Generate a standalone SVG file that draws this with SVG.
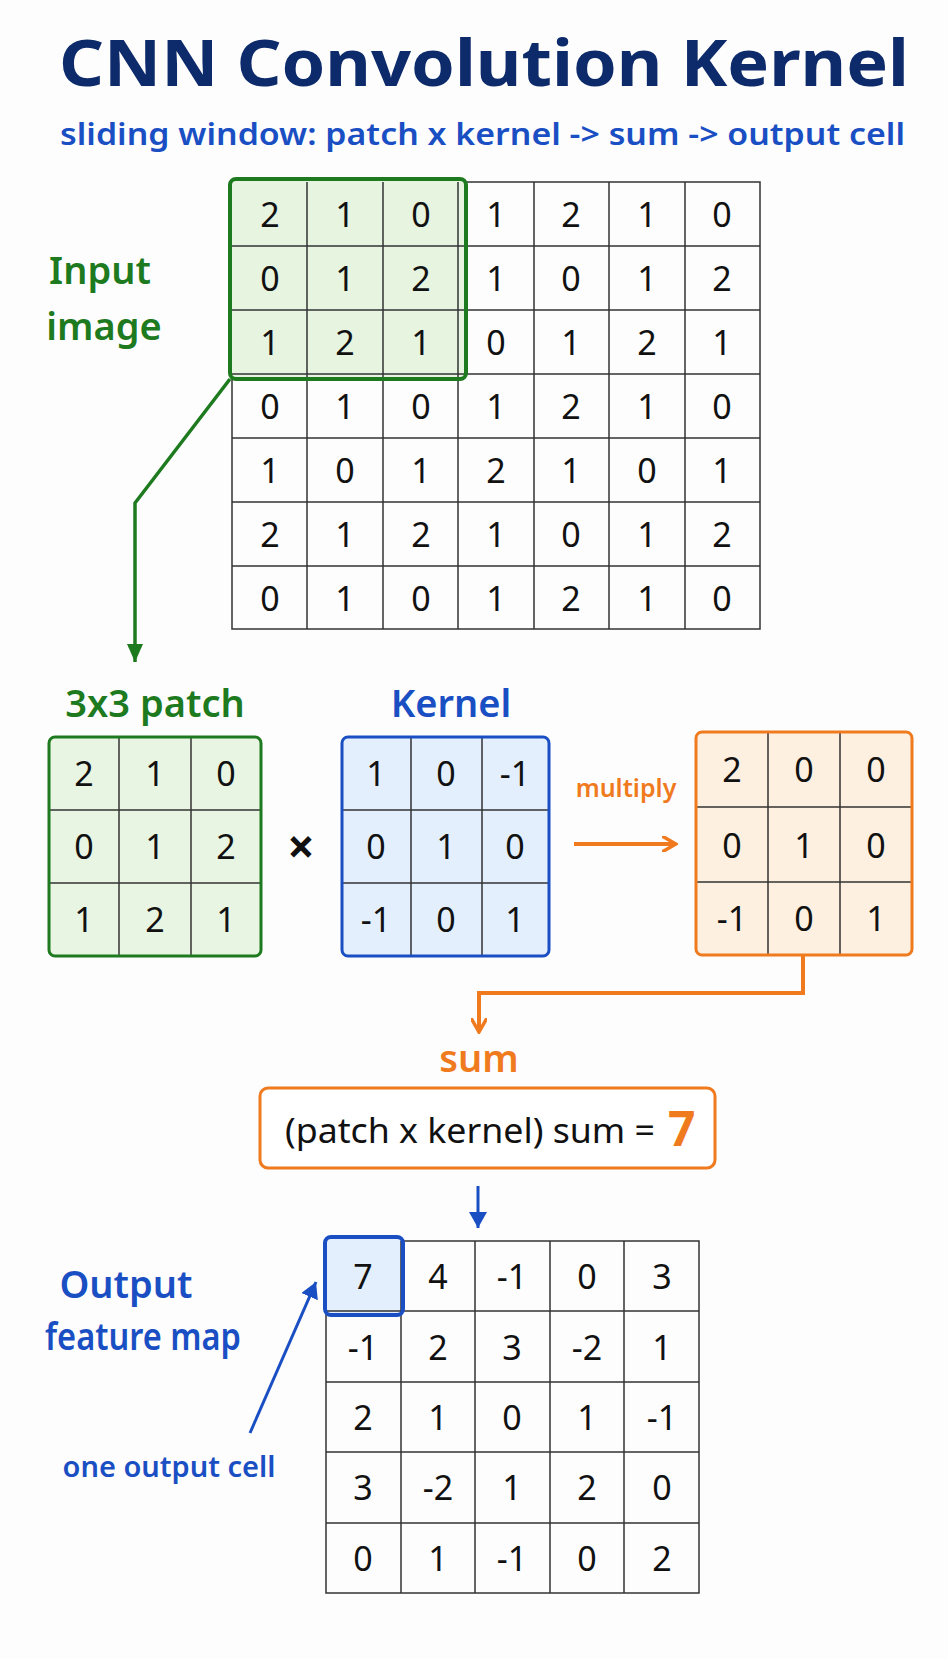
<svg xmlns="http://www.w3.org/2000/svg" width="948" height="1659" viewBox="0 0 948 1659">
<style>
text{font-family:"Noto Sans","Open Sans",sans-serif}
.n{font-size:34px;text-anchor:middle;fill:#111}
.g{stroke:#333;stroke-width:1.5;fill:none}
.lbl{font-size:38px;font-weight:600;text-anchor:middle}
</style>
<defs>
<marker id="ag" markerWidth="20" markerHeight="20" refX="18" refY="10" orient="auto" markerUnits="userSpaceOnUse"><path d="M0,2 L18,10 L0,18 z" fill="#1e7a1e"/></marker>
<marker id="ao" markerWidth="16" markerHeight="16" refX="14" refY="8" orient="auto" markerUnits="userSpaceOnUse"><path d="M0,0 L14,8 L0,16" fill="none" stroke="#f07a1e" stroke-width="3.5"/></marker>
<marker id="ab" markerWidth="18" markerHeight="18" refX="16" refY="9" orient="auto" markerUnits="userSpaceOnUse"><path d="M0,0 L16,9 L0,18 z" fill="#1a4fc4"/></marker>
</defs>
<rect width="948" height="1659" fill="#fdfdfd"/>
<g id="title">
<text x="59" y="86" font-size="64" font-weight="700" fill="#0d2a6b" textLength="850" lengthAdjust="spacingAndGlyphs">CNN Convolution Kernel</text>
<text x="60" y="145" font-size="30" font-weight="600" fill="#1a4fc4" textLength="845" lengthAdjust="spacingAndGlyphs">sliding window: patch x kernel -&gt; sum -&gt; output cell</text>
</g>
<g id="input">
<text class="lbl" x="100" y="284" fill="#1e7a1e">Input</text>
<text class="lbl" x="104" y="340" fill="#1e7a1e">image</text>
<rect x="232" y="182" width="528" height="447" fill="#fff" class="g"/>
<rect x="230" y="179" width="236" height="200" rx="6" fill="#e6f4e0"/>
<path class="g" d="M307,182V629M383,182V629M458,182V629M534,182V629M609,182V629M685,182V629M232,246H760M232,310H760M232,374H760M232,438H760M232,502H760M232,566H760"/>
<rect x="230" y="179" width="236" height="200" rx="6" fill="none" stroke="#1e7a1e" stroke-width="4"/>
<g class="n">
<text x="270" y="227">2</text><text x="345" y="227">1</text><text x="421" y="227">0</text><text x="496" y="227">1</text><text x="571" y="227">2</text><text x="647" y="227">1</text><text x="722" y="227">0</text>
<text x="270" y="291">0</text><text x="345" y="291">1</text><text x="421" y="291">2</text><text x="496" y="291">1</text><text x="571" y="291">0</text><text x="647" y="291">1</text><text x="722" y="291">2</text>
<text x="270" y="355">1</text><text x="345" y="355">2</text><text x="421" y="355">1</text><text x="496" y="355">0</text><text x="571" y="355">1</text><text x="647" y="355">2</text><text x="722" y="355">1</text>
<text x="270" y="419">0</text><text x="345" y="419">1</text><text x="421" y="419">0</text><text x="496" y="419">1</text><text x="571" y="419">2</text><text x="647" y="419">1</text><text x="722" y="419">0</text>
<text x="270" y="483">1</text><text x="345" y="483">0</text><text x="421" y="483">1</text><text x="496" y="483">2</text><text x="571" y="483">1</text><text x="647" y="483">0</text><text x="722" y="483">1</text>
<text x="270" y="547">2</text><text x="345" y="547">1</text><text x="421" y="547">2</text><text x="496" y="547">1</text><text x="571" y="547">0</text><text x="647" y="547">1</text><text x="722" y="547">2</text>
<text x="270" y="611">0</text><text x="345" y="611">1</text><text x="421" y="611">0</text><text x="496" y="611">1</text><text x="571" y="611">2</text><text x="647" y="611">1</text><text x="722" y="611">0</text>
</g>
</g>
<g id="patch">
<text class="lbl" x="155" y="717" fill="#1e7a1e">3x3 patch</text>
<rect x="49" y="737" width="212" height="219" rx="6" fill="#e8f5e2"/>
<path class="g" d="M119,737V956M191,737V956M49,810H261M49,883H261"/>
<rect x="49" y="737" width="212" height="219" rx="6" fill="none" stroke="#1e7a1e" stroke-width="3"/>
<g class="n">
<text x="84" y="786">2</text><text x="155" y="786">1</text><text x="226" y="786">0</text>
<text x="84" y="859">0</text><text x="155" y="859">1</text><text x="226" y="859">2</text>
<text x="84" y="932">1</text><text x="155" y="932">2</text><text x="226" y="932">1</text>
</g>
</g>
<text x="301" y="864" font-size="48" font-weight="700" text-anchor="middle" fill="#111">×</text>
<g id="kernel">
<text class="lbl" x="451" y="717" fill="#1a4fc4">Kernel</text>
<rect x="342" y="737" width="207" height="219" rx="6" fill="#e3effc"/>
<path class="g" d="M411,737V956M482,737V956M342,810H549M342,883H549"/>
<rect x="342" y="737" width="207" height="219" rx="6" fill="none" stroke="#1a4fc4" stroke-width="3"/>
<g class="n">
<text x="376" y="786">1</text><text x="446" y="786">0</text><text x="515" y="786">-1</text>
<text x="376" y="859">0</text><text x="446" y="859">1</text><text x="515" y="859">0</text>
<text x="376" y="932">-1</text><text x="446" y="932">0</text><text x="515" y="932">1</text>
</g>
</g>
<g id="result">
<rect x="696" y="732" width="216" height="223" rx="6" fill="#fdf0e0"/>
<path class="g" d="M768,732V955M840,732V955M696,807H912M696,882H912"/>
<rect x="696" y="732" width="216" height="223" rx="6" fill="none" stroke="#f07a1e" stroke-width="3"/>
<g class="n">
<text x="732" y="782">2</text><text x="804" y="782">0</text><text x="876" y="782">0</text>
<text x="732" y="858">0</text><text x="804" y="858">1</text><text x="876" y="858">0</text>
<text x="732" y="931">-1</text><text x="804" y="931">0</text><text x="876" y="931">1</text>
</g>
</g>
<g id="sumbox">
<text class="lbl" x="479" y="1072" fill="#f07a1e">sum</text>
<rect x="260" y="1088" width="455" height="80" rx="8" fill="#fff" stroke="#f07a1e" stroke-width="3"/>
<text x="285" y="1143" font-size="34" fill="#111" textLength="370" lengthAdjust="spacingAndGlyphs">(patch x kernel) sum =</text>
<text x="668" y="1146" font-size="48" font-weight="700" fill="#f07a1e">7</text>
</g>
<g id="output">
<text class="lbl" x="126" y="1298" fill="#1a4fc4">Output</text>
<text class="lbl" x="143" y="1350" fill="#1a4fc4" font-size="36" textLength="196" lengthAdjust="spacingAndGlyphs">feature map</text>
<text x="169" y="1477" font-size="29" font-weight="600" text-anchor="middle" fill="#1a4fc4">one output cell</text>
<rect x="326" y="1241" width="373" height="352" fill="#fff" class="g"/>
<rect x="325" y="1237" width="78" height="78" rx="6" fill="#e3effc"/>
<path class="g" d="M401,1241V1593M475,1241V1593M550,1241V1593M624,1241V1593M326,1311H699M326,1382H699M326,1452H699M326,1523H699"/>
<rect x="325" y="1237" width="78" height="78" rx="6" fill="none" stroke="#1a4fc4" stroke-width="4"/>
<g class="n">
<text x="363" y="1289">7</text><text x="438" y="1289">4</text><text x="512" y="1289">-1</text><text x="587" y="1289">0</text><text x="662" y="1289">3</text>
<text x="363" y="1360">-1</text><text x="438" y="1360">2</text><text x="512" y="1360">3</text><text x="587" y="1360">-2</text><text x="662" y="1360">1</text>
<text x="363" y="1430">2</text><text x="438" y="1430">1</text><text x="512" y="1430">0</text><text x="587" y="1430">1</text><text x="662" y="1430">-1</text>
<text x="363" y="1500">3</text><text x="438" y="1500">-2</text><text x="512" y="1500">1</text><text x="587" y="1500">2</text><text x="662" y="1500">0</text>
<text x="363" y="1571">0</text><text x="438" y="1571">1</text><text x="512" y="1571">-1</text><text x="587" y="1571">0</text><text x="662" y="1571">2</text>
</g>
</g>
<g id="connectors" fill="none">
<path d="M230,379L135,503V662" stroke="#1e7a1e" stroke-width="3.5" marker-end="url(#ag)"/>
<path d="M574,844H676" stroke="#f07a1e" stroke-width="4" marker-end="url(#ao)"/>
<text x="626" y="797" font-size="25" font-weight="600" text-anchor="middle" fill="#f07a1e" stroke="none">multiply</text>
<path d="M803,956V993H479V1032" stroke="#f07a1e" stroke-width="4" marker-end="url(#ao)"/>
<path d="M478,1186V1228" stroke="#1a4fc4" stroke-width="3" marker-end="url(#ab)"/>
<path d="M250,1433L316,1282" stroke="#1a4fc4" stroke-width="3" marker-end="url(#ab)"/>
</g>
</svg>
